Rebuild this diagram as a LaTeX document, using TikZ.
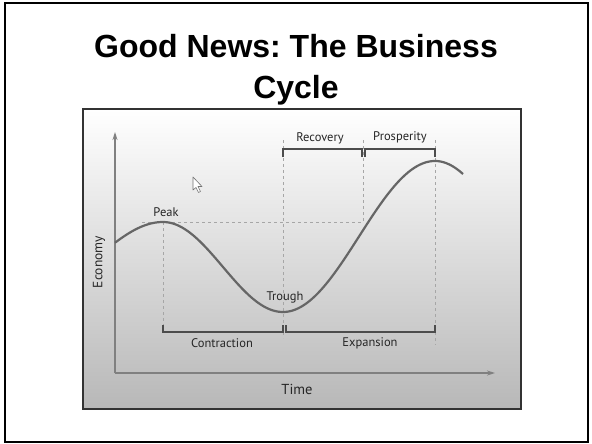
\documentclass[tikz,border=0pt]{standalone}
\usepackage{fontspec}
\setmainfont{Liberation Sans}
\newfontfamily\lblfont{PT Sans}
\usetikzlibrary{arrows.meta}
\frenchspacing
\tikzset{
  frame/.style={draw=black,line width=2pt},
  picbox/.style={draw=black!80,line width=1.3pt},
  axisline/.style={draw=black!50,line width=1.3pt,-{Stealth[length=8pt,width=5pt]}},
  curveline/.style={draw=black!60,line width=2.2pt},
  guide/.style={draw=black!35,line width=0.8pt,dash pattern=on 3pt off 3pt},
  bracket/.style={draw=black!70,line width=2pt},
  lbl/.style={font=\lblfont\fontsize{12.5}{14}\selectfont,text=black!85,inner sep=0pt},
  titletext/.style={font=\bfseries\fontsize{32}{41}\selectfont,align=center,inner sep=0pt}
}
\begin{document}
\begin{tikzpicture}[x=1pt,y=-1pt]
\useasboundingbox (0,0) rectangle (592,444);
% outer frame
\draw[frame] (5,3) rectangle (588,442);
% title
\node[titletext] (title) at (296,70) {Good News: The Business\\Cycle};
% picture background
\shade[top color=white,middle color=black!5,bottom color=black!28] (83,109) rectangle (521,409);
\draw[picbox] (83,109) rectangle (521,409);
% guides
\draw[guide] (142,222) -- (363,222);
\draw[guide] (163,222) -- (163,334);
\draw[guide] (283,140) -- (283,338);
\draw[guide] (363,140) -- (363,222);
\draw[guide] (435,140) -- (435,345);
% axes
\coordinate (origin) at (115,373);
\coordinate (ytip) at (115,132);
\coordinate (xtip) at (495,373);
\draw[axisline] (origin) -- (ytip);
\draw[axisline] (origin) -- (xtip);
% curve
\draw[curveline]
  plot[domain=115:163,samples=30] (\x,{222+30*(1-cos(1.5*(163-\x)))})
  -- plot[domain=163:283,samples=60] (\x,{222+45*(1-cos(1.5*(\x-163)))})
  -- plot[domain=283:435,samples=70] (\x,{312-75.5*(1-cos((\x-283)/152*180))})
  -- plot[domain=435:463,samples=20] (\x,{161+80*(1-cos((\x-435)/152*180))});
% brackets
\draw[bracket] (163,325) -- (163,332) -- (283,332) -- (283,325);
\draw[bracket] (286,325) -- (286,332) -- (435,332) -- (435,325);
\draw[bracket] (283,157) -- (283,149) -- (362,149) -- (362,157);
\draw[bracket] (365,157) -- (365,149) -- (435,149) -- (435,157);
% labels
\node[lbl] (peak) at (166,212) {Peak};
\node[lbl] (trough) at (285,297) {Trough};
\node[lbl] (contraction) at (222,343) {Contraction};
\node[lbl] (expansion) at (370,343) {Expansion};
\node[lbl] (recovery) at (320,138) {Recovery};
\node[lbl] (prosperity) at (400,137) {Prosperity};
\node[lbl,rotate=90,font=\lblfont\fontsize{13.5}{15}\selectfont] (economy) at (99,262) {Economy};
\node[lbl,font=\lblfont\fontsize{14.5}{16}\selectfont] (time) at (297,389) {Time};
% cursor
\draw[black!55,fill=white,line width=0.6pt,line join=round]
  (193,177) -- (193,190) -- (196,187.5) -- (198.5,192.5) -- (200.5,191.5) -- (198,186.5) -- (202,186.5) -- cycle;
\end{tikzpicture}
\end{document}
